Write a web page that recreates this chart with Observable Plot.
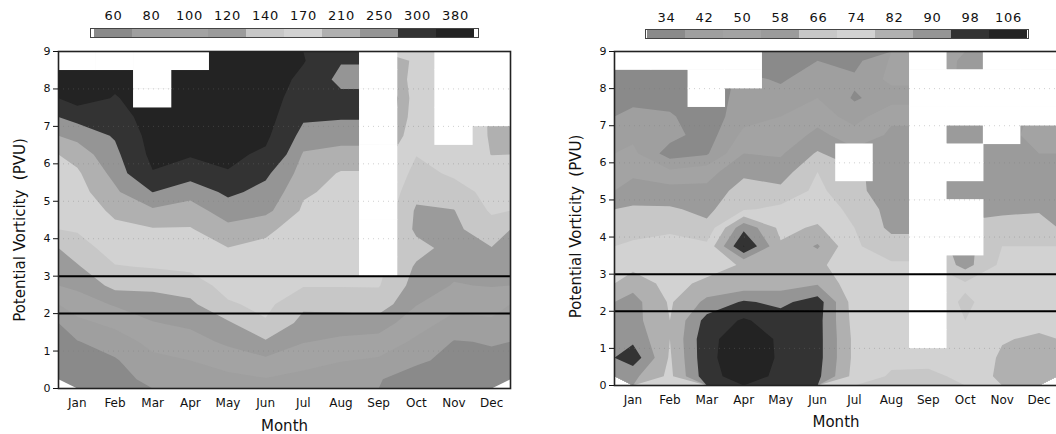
<!DOCTYPE html>
<html>
<head>
<meta charset="utf-8">
<script src="https://cdn.jsdelivr.net/npm/d3@7"></script>
<script src="https://cdn.jsdelivr.net/npm/@observablehq/plot@0.6"></script>
<style>
  html, body { margin: 0; padding: 0; background: #fff; }
  #wrap { position: relative; width: 1056px; height: 434px; overflow: hidden; background: #fff; }
  #wrap > div { position: absolute; }
  #wrap svg { max-width: none !important; }
</style>
</head>
<body>
<div id="wrap">
  <div id="legL" style="left:0;top:0;width:528px"></div>
  <div id="legR" style="left:528px;top:0;width:540px"></div>
  <div id="mainL" style="left:0;top:42px;width:528px"></div>
  <div id="mainR" style="left:528px;top:42px;width:540px"></div>
</div>
<script>
// ---------------- data ----------------
const months = ["Jan","Feb","Mar","Apr","May","Jun","Jul","Aug","Sep","Oct","Nov","Dec"];
// grid rows (PV level centres of the 0.5-PVU cells), bottom to top
const pvLevels = [0.25,0.75,1.25,1.75,2.25,2.75,3.25,3.75,4.25,4.75,5.25,5.75,6.25,6.75,7.25,7.75,8.25,8.75];
const pvTicks = [0,1,2,3,4,5,6,7,8,9];
const pvReference = [2,3];

// contour levels (legend labels)
const leftLevels  = [60,80,100,120,140,170,210,250,300,380];
const rightLevels = [34,42,50,58,66,74,82,90,98,106];
// shading used for each level band (same for both panels)
const shades = ["#8a8a8a","#9f9f9f","#a3a3a3","#9b9b9b","#c7c7c7","#d2d2d2","#b0b0b0","#959595","#333333","#232323"];

// left panel: one column per month, values at pvLevels (null = no data)
const leftGrid = [
  [67,73,79,95,110,124,137,156,173,183,194,204,225,263,319,420,430,null],          // Jan
  [72,78,90,105,122,146,168,184,200,219,242,263,283,306,340,374,400,null],         // Feb
  [86,95,106,119,130,145,172,189,207,242,301,376,400,410,420,null,null,null],      // Mar
  [90,100,112,124,134,153,177,192,207,231,266,325,390,405,415,420,425,null],       // Apr
  [95,108,124,136,166,182,195,209,238,271,312,376,395,410,420,425,430,435],        // May
  [99,116,137,167,178,186,194,202,217,261,283,311,368,395,410,420,425,430],        // Jun
  [94,107,121,131,146,172,179,186,194,204,215,230,245,277,310,335,360,385],        // Jul
  [87,101,116,130,148,172,178,184,189,195,201,207,232,271,305,320,280,305],        // Aug
  [81,97,113,129,152,172,null,null,null,null,null,null,null,null,null,null,null,null], // Sep
  [72,83,96,109,121,128,136,150,134,136,148,160,171,178,182,185,187,188],          // Oct
  [70,75,79,93,106,119,124,129,134,139,157,175,182,null,null,null,null,null],      // Nov
  [72,77,81,96,109,121,130,139,157,174,180,188,211,214,null,null,null,null]        // Dec
];

// right panel
const rightGrid = [
  [92,103,96,93,93,87,79,75,72,67,62,56,52,48,44,40,39,null],                      // Jan
  [80,81,82,82,81,79,77,76,73,67,61,52,38,45,43,39,37,null],                       // Feb
  [103,104,104,101,92,84,78,76,68,64,60,55,41,38,37,null,null,null],               // Mar
  [110,111,110,107,99,84,83,106.5,96,73,70,64,58,52,47,44,null,null],              // Apr
  [104,105,105,102,96,86,84,83,80,76,68,62,57,53,50,45,41,38],                     // May
  [100,101,101,101,102,89,84,91,83,78,76,74,67,60,55,50,46,42],                    // Jun
  [79,80,80,79,78,77,76,75,74,72,68,null,null,54,46,41,43.5,39.5],                 // Jul
  [73,76,77,78,78,77,75,70,64,63,62,61,60,59,57,46,52,51],                         // Aug
  [72,77,null,null,null,null,null,null,null,null,null,null,null,null,null,null,null,null], // Sep
  [76,77,78,74,73,75,63,null,null,null,60,null,null,60,null,null,null,60],         // Oct
  [84,83,81.5,78,77,77,76,74,70,64,62,60,59,null,null,null,null,null],             // Nov
  [84,83,83,80,78,77,76,74,70,65,61,59,58,57,null,null,null,null]                  // Dec
];

// ---------------- helpers ----------------
const monthCenters = months.map((m, i) => i + 0.5);
const halfCell = (pvLevels[1] - pvLevels[0]) / 2;
function toRaster(grid) {
  const values = [];
  for (let j = 0; j < pvLevels.length; j++)
    for (let i = 0; i < months.length; i++) {
      const v = grid[i][j];
      values.push(v == null ? NaN : v);
    }
  return values;
}
function missingCells(grid) {
  const out = [];
  grid.forEach((col, i) => col.forEach((v, j) => { if (v == null) out.push({i, j}); }));
  return out;
}
const font = "DejaVu Sans";

function legend(levels, opts) {
  return Plot.plot({
    width: opts.width, height: 40,
    marginLeft: opts.left, marginRight: opts.right, marginTop: opts.top, marginBottom: 40 - opts.top - 9,
    style: {fontFamily: font, fontSize: "13px", background: "transparent", color: "#111", letterSpacing: "0.8px", maxWidth: "none"},
    x: {type: "band", domain: levels, padding: 0, axis: null},
    y: {axis: null},
    color: {type: "identity"},
    marks: [
      Plot.cell(levels, {x: d => d, fill: (d, i) => shades[i]}),
      Plot.frame({stroke: "#444", strokeWidth: 1}),
      Plot.axisX(levels, {anchor: "top", tickSize: 0, tickPadding: opts.pad, label: null})
    ]
  });
}

function panel(grid, levels, opts) {
  return Plot.plot({
    width: opts.width, height: 392,
    marginLeft: opts.left, marginRight: opts.right, marginTop: 9, marginBottom: opts.bottom,
    style: {fontFamily: font, fontSize: "12px", background: "transparent", color: "#111", maxWidth: "none"},
    x: {domain: [0, 12], axis: null},
    y: {domain: [0, 9], axis: null},
    color: {type: "threshold", domain: levels.slice(1), range: shades},
    marks: [
      Plot.contour(toRaster(grid), {
        width: months.length, height: pvLevels.length,
        x1: 0, x2: 12, y1: 0, y2: 9,
        fill: Plot.identity, thresholds: levels, stroke: "none"
      }),
      Plot.rect(missingCells(grid), {
        x1: d => d.i, x2: d => d.i + 1,
        y1: d => pvLevels[d.j] - halfCell, y2: d => pvLevels[d.j] + halfCell,
        fill: "white", inset: -0.3
      }),
      Plot.gridY(pvTicks.slice(1, -1), {stroke: "#777", strokeOpacity: 0.35, strokeDasharray: "1,4"}),
      Plot.ruleY(pvReference, {stroke: "#000", strokeWidth: 2}),
      Plot.frame({stroke: "#222", strokeWidth: 1.6}),
      Plot.axisY(pvTicks, {anchor: "left", tickSize: 5, tickPadding: 3, fontSize: 11, label: null}),
      Plot.axisX(monthCenters, {anchor: "bottom", tickSize: 0, tickPadding: 10,
        tickFormat: d => months[Math.floor(d)], label: null, fontSize: 12, style: {letterSpacing: "1px"}}),
      Plot.text(["Month"], {frameAnchor: "bottom", dy: opts.monthDy, fontSize: 15, textAnchor: "middle", lineAnchor: "middle",
        style: {letterSpacing: "0.6px"}}),
      Plot.text(["Potential Vorticity  (PVU)"], {frameAnchor: "left", rotate: -90, dx: -38, dy: opts.labelDy,
        fontSize: 15, textAnchor: "middle", lineAnchor: "middle", style: {letterSpacing: "1px"}})
    ]
  });
}

document.getElementById("legL").appendChild(legend(leftLevels, {width: 528, left: 90, right: 50, top: 28, pad: 9}));
document.getElementById("legR").appendChild(legend(rightLevels, {width: 540, left: 117, right: 40, top: 29, pad: 8}));
document.getElementById("mainL").appendChild(panel(leftGrid, leftLevels, {width: 528, left: 58, right: 18, bottom: 46, monthDy: 38, labelDy: 10}));
document.getElementById("mainR").appendChild(panel(rightGrid, rightLevels, {width: 540, left: 86, right: 11, bottom: 49, monthDy: 37, labelDy: 8}));
</script>
</body>
</html>
